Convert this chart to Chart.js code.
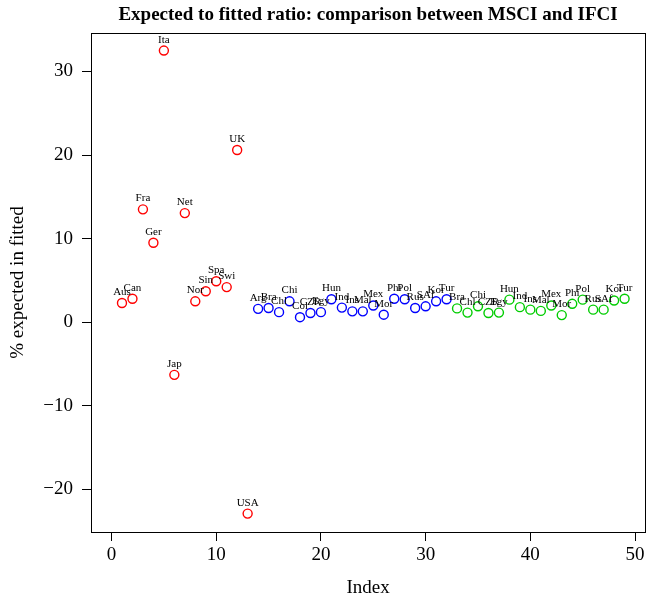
<!DOCTYPE html>
<html>
<head>
<meta charset="utf-8">
<script src="https://cdn.jsdelivr.net/npm/chart.js@4/dist/chart.umd.min.js"></script>
<style>
  html, body { margin: 0; padding: 0; background: #fff; }
  #wrap { width: 651px; height: 601px; }
</style>
</head>
<body>
<div id="wrap"><canvas id="chart" width="651" height="601"></canvas></div>
<script>
// developed markets (index 1-13)
const devNames = ["Aus", "Can", "Fra", "Ger", "Ita", "Jap", "Net", "Nor", "Sin", "Spa", "Swi", "UK", "USA"];
const devValues = [2.3, 2.8, 13.5, 9.5, 32.5, -6.3, 13.05, 2.5, 3.7, 4.9, 4.2, 20.6, -22.9];

// emerging markets, MSCI (index 14-32)
const msciNames = ["Arg", "Bra", "Chl", "Chi", "Col", "CZR", "Egy", "Hun", "Ind", "Ins", "Mal", "Mex", "Mor", "Phi", "Pol", "Rus", "SAf", "Kor", "Tur"];
const msciValues = [1.6, 1.7, 1.2, 2.5, 0.6, 1.1, 1.2, 2.75, 1.75, 1.3, 1.3, 2.0, 0.9, 2.8, 2.75, 1.7, 1.9, 2.5, 2.75];

// emerging markets, IFCI (index 33-49)
const ifciNames = ["Bra", "Chl", "Chi", "CZR", "Egy", "Hun", "Ind", "Ins", "Mal", "Mex", "Mor", "Phi", "Pol", "Rus", "SAf", "Kor", "Tur"];
const ifciValues = [1.65, 1.15, 1.9, 1.1, 1.15, 2.7, 1.8, 1.5, 1.35, 2.0, 0.85, 2.2, 2.7, 1.5, 1.5, 2.6, 2.8];

const xTicks = [0, 10, 20, 30, 40, 50];
const yTicks = [-20, -10, 0, 10, 20, 30];

const serif = "'Liberation Serif', 'DejaVu Serif', serif";

// index runs on from one group to the next
function toPoints(values, start) {
    return values.map((v, i) => ({ x: start + i, y: v }));
}

const groups = [
    { names: devNames, values: devValues, color: "#ff0000" },
    { names: msciNames, values: msciValues, color: "#0000ff" },
    { names: ifciNames, values: ifciValues, color: "#00cd00" }
];

let start = 1;
const datasets = groups.map(g => {
    const ds = {
        data: toPoints(g.values, start),
        labelsText: g.names,
        borderColor: g.color,
        backgroundColor: "rgba(0,0,0,0)",
        pointRadius: 4.5,
        pointBorderWidth: 1.4,
        pointHoverRadius: 4.5,
        showLine: false
    };
    start += g.values.length;
    return ds;
});

// R prints a real minus sign
const fmt = v => String(v).replace("-", "\u2212");

// box, point labels, title and axis titles
const decorations = {
    id: "decorations",
    afterDatasetsDraw(chart) {
        const ctx = chart.ctx;
        const a = chart.chartArea;
        ctx.save();
        ctx.strokeStyle = "#000";
        ctx.lineWidth = 1;
        ctx.strokeRect(Math.round(a.left) + 0.5, Math.round(a.top) + 0.5,
            Math.round(a.right - a.left), Math.round(a.bottom - a.top));

        ctx.fillStyle = "#000";
        ctx.font = "11px " + serif;
        ctx.textAlign = "center";
        ctx.textBaseline = "alphabetic";
        chart.data.datasets.forEach((ds, i) => {
            const meta = chart.getDatasetMeta(i);
            meta.data.forEach((pt, j) => {
                ctx.fillText(ds.labelsText[j], pt.x, pt.y - 8);
            });
        });

        ctx.font = "bold 19px " + serif;
        ctx.textBaseline = "middle";
        ctx.fillText("Expected to fitted ratio: comparison between MSCI and IFCI", (a.left + a.right) / 2, 15);

        ctx.font = "19px " + serif;
        ctx.fillText("Index", (a.left + a.right) / 2, 588);

        ctx.translate(18, (a.top + a.bottom) / 2);
        ctx.rotate(-Math.PI / 2);
        ctx.fillText("% expected in fitted", 0, 0);
        ctx.restore();
    }
};

new Chart(document.getElementById("chart"), {
    type: "scatter",
    data: { datasets: datasets },
    options: {
        responsive: false,
        animation: false,
        layout: { padding: { left: 0, top: 33, right: 4, bottom: 0 } },
        plugins: {
            legend: { display: false },
            tooltip: { enabled: false },
            title: { display: false }
        },
        scales: {
            x: {
                type: "linear",
                min: -1.96,
                max: 50.96,
                afterBuildTicks: s => { s.ticks = xTicks.map(v => ({ value: v })); },
                afterFit: s => { s.height = 69; },
                grid: { drawOnChartArea: false, drawTicks: true, tickLength: 9, color: "#000" },
                border: { display: false },
                ticks: { color: "#000", padding: 3, font: { family: serif, size: 19 }, maxRotation: 0, callback: fmt }
            },
            y: {
                type: "linear",
                min: -25.1,
                max: 34.6,
                afterBuildTicks: s => { s.ticks = yTicks.map(v => ({ value: v })); },
                afterFit: s => { s.width = 91; },
                grid: { drawOnChartArea: false, drawTicks: true, tickLength: 9, color: "#000" },
                border: { display: false },
                ticks: { color: "#000", padding: 9, font: { family: serif, size: 19 }, callback: fmt }
            }
        }
    },
    plugins: [decorations]
});
</script>
</body>
</html>
